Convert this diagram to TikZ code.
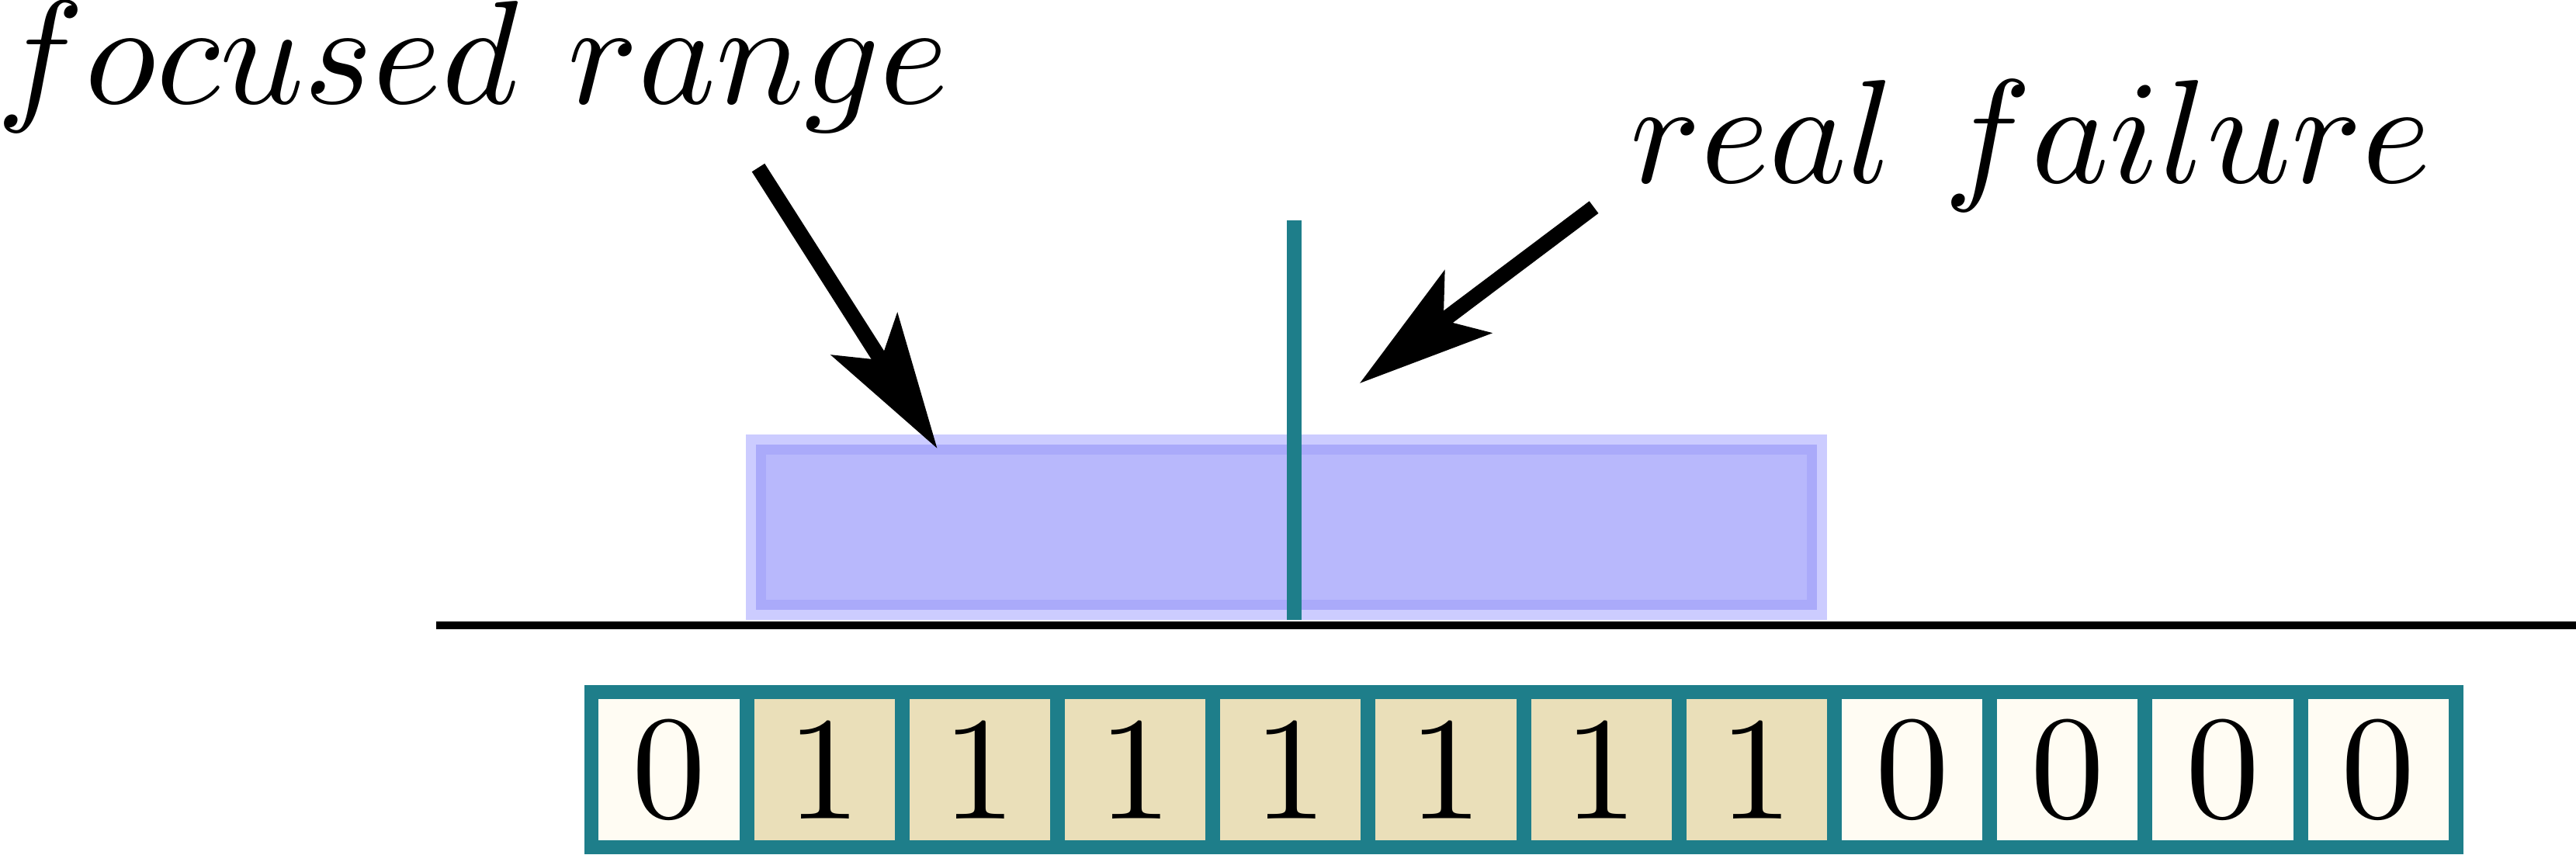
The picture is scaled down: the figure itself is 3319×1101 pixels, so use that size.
\documentclass[tikz,border=0pt]{standalone}
\usetikzlibrary{arrows.meta}
\definecolor{tealc}{RGB}{30,126,138}
\definecolor{tanc}{RGB}{234,223,185}
\definecolor{ivoryc}{RGB}{255,252,243}
\definecolor{bout}{RGB}{204,204,255}
\definecolor{bmid}{RGB}{170,170,250}
\definecolor{binn}{RGB}{184,184,252}
\begin{document}
\begin{tikzpicture}[x=0.052632pt,y=-0.052632pt,
  cell/.style={draw=tealc, line width=0.984pt, minimum width=10.526pt,
    minimum height=10.526pt, inner sep=0pt, outer sep=0pt},
  pointer/.style={line width=1.03pt, -{Stealth[length=9.158pt, width=5.263pt, inset=2.053pt]}},
  label/.style={anchor=base west, inner sep=0pt}]
\useasboundingbox (0,0) rectangle (3319,1101);
% focused range box
\fill[bout] (961,560) rectangle (2354,799);
\fill[bmid] (974,573) rectangle (2341,786);
\fill[binn] (987,586) rectangle (2328,773);
% real failure marker
\coordinate (ft) at (1667,284);
\coordinate (fb) at (1667,799);
\draw[tealc, line width=1pt] (ft) -- (fb);
% baseline
\coordinate (bl) at (562,805.7);
\coordinate (br) at (3319,805.7);
\draw[line width=0.526pt] (bl) -- (br);
% labels
\node[label] (lfr) at (-8,133) {$focused\ range$};
\node[label] (lrf) at (2097,235) {$real\ failure$};
% arrows
\coordinate (a1s) at (977,216);
\coordinate (a1e) at (1207.6,578);
\coordinate (a2s) at (2053.6,267);
\coordinate (a2e) at (1751.8,494);
\draw[pointer] (a1s) -- (a1e);
\draw[pointer] (a2s) -- (a2e);
% cells
\foreach \v [count=\i from 0] in {0,1,1,1,1,1,1,1,0,0,0,0}{
  \ifnum\v=1 \def\cf{tanc}\else\def\cf{ivoryc}\fi
  \node[cell, fill=\cf] (c\i) at (862+200.2*\i,992) {\v};
}
\end{tikzpicture}
\end{document}
